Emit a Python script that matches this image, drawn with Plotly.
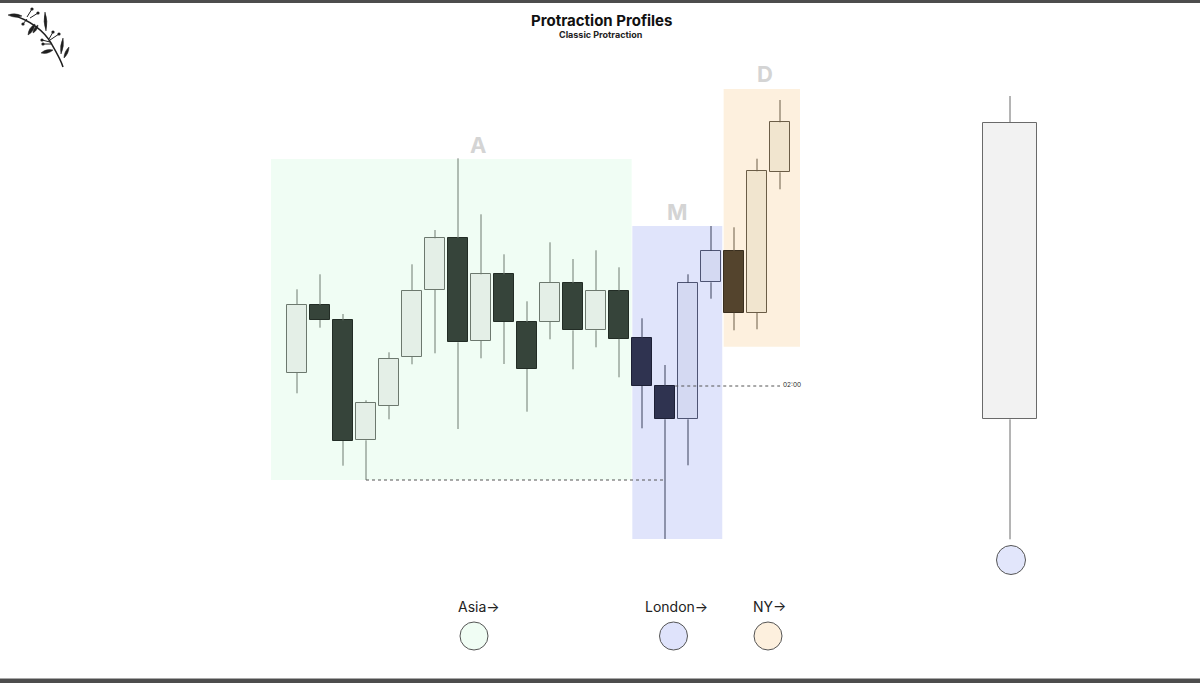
import plotly.graph_objects as go

# ---------------- data ----------------
candle_idx = list(range(22))
session = ["Asia"] * 15 + ["London"] * 4 + ["NY"] * 3
opens = [310.3, 378.0, 362.7, 242.7, 277.0, 326.0, 393.3, 445.0, 342.0, 408.7, 361.0,
         361.0, 400.0, 352.7, 392.3, 344.7, 297.0, 263.7, 400.7, 432.0, 370.3, 510.7]
highs = [393.7, 408.7, 369.0, 282.7, 330.7, 418.7, 453.0, 524.7, 468.7, 428.7, 381.7,
         440.7, 424.0, 432.7, 415.7, 364.7, 318.0, 408.7, 457.0, 455.7, 524.3, 583.0]
lows = [289.7, 355.3, 217.3, 203.0, 263.7, 318.7, 329.7, 254.0, 324.7, 319.0, 271.3,
        343.7, 313.7, 335.7, 305.7, 254.7, 144.0, 217.7, 384.3, 352.7, 353.7, 493.7]
closes = [378.0, 363.0, 242.0, 280.3, 324.3, 392.3, 444.7, 340.7, 408.7, 361.0, 314.0,
          400.0, 352.7, 392.3, 344.3, 297.0, 263.7, 400.0, 432.0, 370.3, 511.7, 560.7]

# higher-timeframe candle
big_idx = [31]
big_open = [263.7]
big_high = [587.0]
big_low = [143.7]
big_close = [560.3]

# session boxes
session_names = ["Asia", "London", "NY"]
session_letters = ["A", "M", "D"]
session_x0 = [-1.13, 14.58, 18.55]
session_x1 = [14.55, 18.49, 21.87]
session_lo = [203.0, 144.0, 336.3]
session_hi = [524.0, 457.0, 594.0]

legend_labels = ["Asia\u2192", "London\u2192", "NY\u2192"]

# ---------------- styles ----------------
W, H = 1200, 683
X0_PX, STEP_PX = 297.0, 23.0
BODY_W = 0.89

style = {
    "Asia": dict(bull="#e4efe7", bull_line="#6c786e", bear="#36443a", bear_line="#222c25",
                 wick="#6f7b71", box="#f0fdf4"),
    "London": dict(bull="#d4d9f2", bull_line="#4e5473", bear="#2f3350", bear_line="#1d2036",
                   wick="#3b405b", box="#e0e4fb"),
    "NY": dict(bull="#f1e5cf", bull_line="#6b5d47", bear="#54442d", bear_line="#3a2f1f",
               wick="#6b5d47", box="#fdf0de"),
}


def px2paper(x, y):
    return x / W, 1 - y / H


def wick_xy(xs, o, h, l, c):
    wx, wy = [], []
    for x, oo, hh, ll, cc in zip(xs, o, h, l, c):
        lo_b, hi_b = min(oo, cc), max(oo, cc)
        wx += [x, x, None, x, x, None]
        wy += [ll, lo_b, None, hi_b, hh, None]
    return wx, wy


fig = go.Figure()

# wicks + bodies per session
for s in session_names:
    ids = [i for i, ss in enumerate(session) if ss == s]
    st = style[s]
    wx, wy = wick_xy([candle_idx[i] for i in ids], [opens[i] for i in ids],
                     [highs[i] for i in ids], [lows[i] for i in ids], [closes[i] for i in ids])
    fig.add_trace(go.Scatter(x=wx, y=wy, mode="lines", line=dict(color=st["wick"], width=1),
                             hoverinfo="skip", showlegend=False))
    bx, base, hgt, fill, lc = [], [], [], [], []
    for i in ids:
        bull = closes[i] >= opens[i]
        bx.append(candle_idx[i])
        base.append(min(opens[i], closes[i]))
        hgt.append(abs(closes[i] - opens[i]))
        fill.append(st["bull"] if bull else st["bear"])
        lc.append(st["bull_line"] if bull else st["bear_line"])
    fig.add_trace(go.Bar(x=bx, y=hgt, base=base, width=BODY_W,
                         marker=dict(color=fill, line=dict(color=lc, width=1)),
                         hoverinfo="skip", showlegend=False))

# big candle
bwx, bwy = wick_xy(big_idx, big_open, big_high, big_low, big_close)
fig.add_trace(go.Scatter(x=bwx, y=bwy, mode="lines",
                         line=dict(color="#6a6a6a", width=1), hoverinfo="skip", showlegend=False))
fig.add_trace(go.Bar(x=big_idx, y=[abs(big_close[0] - big_open[0])],
                     base=[min(big_open[0], big_close[0])], width=2.35,
                     marker=dict(color="#f2f2f2", line=dict(color="#6a6a6a", width=1)),
                     hoverinfo="skip", showlegend=False))

shapes = []
# session boxes
for k, s in enumerate(session_names):
    shapes.append(dict(type="rect", xref="x", yref="y", x0=session_x0[k], x1=session_x1[k],
                       y0=session_lo[k], y1=session_hi[k], fillcolor=style[s]["box"],
                       line=dict(width=0), layer="below"))

# dotted reference lines
shapes.append(dict(type="line", xref="x", yref="y", x0=candle_idx[3], x1=candle_idx[16],
                   y0=lows[3], y1=lows[3], line=dict(color="#555555", width=1, dash="dot")))
shapes.append(dict(type="line", xref="x", yref="y", x0=candle_idx[16] + BODY_W / 2, x1=candle_idx[21],
                   y0=opens[16], y1=opens[16], line=dict(color="#555555", width=1, dash="dot")))

# frame bars
shapes.append(dict(type="rect", xref="paper", yref="paper", x0=0, x1=1, y0=1 - 3 / H, y1=1,
                   fillcolor="#4d4d4d", line=dict(width=0)))
shapes.append(dict(type="rect", xref="paper", yref="paper", x0=0, x1=1, y0=0, y1=4 / H,
                   fillcolor="#4d4d4d", line=dict(width=0)))
shapes.append(dict(type="line", xref="paper", yref="paper", x0=0, x1=1, y0=4.5 / H, y1=4.5 / H,
                   line=dict(color="#a8a8a8", width=1)))


def circle(cx, cy, r, fill):
    x0, y0 = px2paper(cx - r, cy + r)
    x1, y1 = px2paper(cx + r, cy - r)
    return dict(type="circle", xref="paper", yref="paper", x0=x0, x1=x1, y0=y0, y1=y1,
                fillcolor=fill, line=dict(color="#555555", width=1))


legend_px = [474, 673.5, 768]
for k, s in enumerate(session_names):
    shapes.append(circle(legend_px[k], 636, 14, style[s]["box"] if s != "London" else "#dfe3fb"))
shapes.append(circle(1011, 560, 14.5, "#e2e6fb"))


# ---------------- logo (decoration) ----------------
def P(x, y):
    a, b = px2paper(x, y)
    return f"{a:.5f},{b:.5f}"


def leaf(ax, ay, bx, by, w):
    mx, my = (ax + bx) / 2, (ay + by) / 2
    dx, dy = bx - ax, by - ay
    n = (dx * dx + dy * dy) ** 0.5
    nx, ny = -dy / n * w, dx / n * w
    return (f"M{P(ax, ay)} Q{P(mx + nx, my + ny)} {P(bx, by)} "
            f"Q{P(mx - nx, my - ny)} {P(ax, ay)} Z")


logo_col = "#1f1f1f"
shapes.append(dict(type="path", xref="paper", yref="paper",
                   path=f"M{P(12, 15)} C{P(30, 20)} {P(44, 31)} {P(51, 43)} S{P(61, 60)} {P(63, 67)}",
                   line=dict(color=logo_col, width=1.5)))
for tw in [((27, 17), (32, 9)), ((30, 18), (38, 13)), ((27, 19), (23, 24)),
           ((49, 39), (53, 32)), ((50, 40), (59, 34)), ((50, 42), (42, 40)), ((51, 44), (43, 44))]:
    (a1, b1), (a2, b2) = tw
    shapes.append(dict(type="line", xref="paper", yref="paper",
                       x0=a1 / W, y0=1 - b1 / H, x1=a2 / W, y1=1 - b2 / H,
                       line=dict(color=logo_col, width=1)))
for lf in [(22, 16, 8, 15, 3.2), (35, 24, 28, 35, 3.5), (46, 31, 45, 12, 2.8),
           (53, 50, 41, 53, 3.2), (61, 54, 63, 38, 2.6), (64, 58, 69, 47, 2.6), (38, 25, 33, 33, 2.5)]:
    shapes.append(dict(type="path", xref="paper", yref="paper", path=leaf(*lf),
                       fillcolor=logo_col, line=dict(color=logo_col, width=0.5)))
for bx_, by_ in [(32, 9), (38, 13), (23, 24), (53, 32), (59, 34), (42, 40), (43, 44)]:
    shapes.append(circle(bx_, by_, 1.6, logo_col) | dict(line=dict(width=0)))

# ---------------- annotations ----------------
ann = []


def txt(x, y, text, size, color="#1a1a1a", xanchor="center"):
    a, b = px2paper(x, y)
    ann.append(dict(x=a, y=b, xref="paper", yref="paper", text=text, showarrow=False,
                    xanchor=xanchor, yanchor="middle",
                    font=dict(family="Inter, Noto Sans, sans-serif", size=size, color=color)))


txt(601, 20, "<b>Protraction Profiles</b>", 15, "#111111")
txt(601, 35, "<b>Classic Protraction</b>", 9, "#222222")
letter_px = [(478, 145), (677, 212), (765, 74)]
for k, L in enumerate(session_letters):
    txt(letter_px[k][0], letter_px[k][1], f"<b>{L}</b>", 22, "#d4d4d4")
label_px = [479, 676, 769]
for k, L in enumerate(legend_labels):
    txt(label_px[k], 606, L, 14, "#222222")
txt(781, 385, "02:00", 6.5, "#2a2a2a", xanchor="left")

xr = [(0 - X0_PX) / STEP_PX, (W - X0_PX) / STEP_PX]
fig.update_layout(
    width=W, height=H, margin=dict(l=0, r=0, t=0, b=0),
    paper_bgcolor="white", plot_bgcolor="white",
    xaxis=dict(range=xr, visible=False, fixedrange=True),
    yaxis=dict(range=[0, H], visible=False, fixedrange=True),
    shapes=shapes, annotations=ann, bargap=0, barmode="overlay", showlegend=False,
)

fig.write_html("out.html", config={"displayModeBar": False},
               post_script="document.body.style.margin='0';")
